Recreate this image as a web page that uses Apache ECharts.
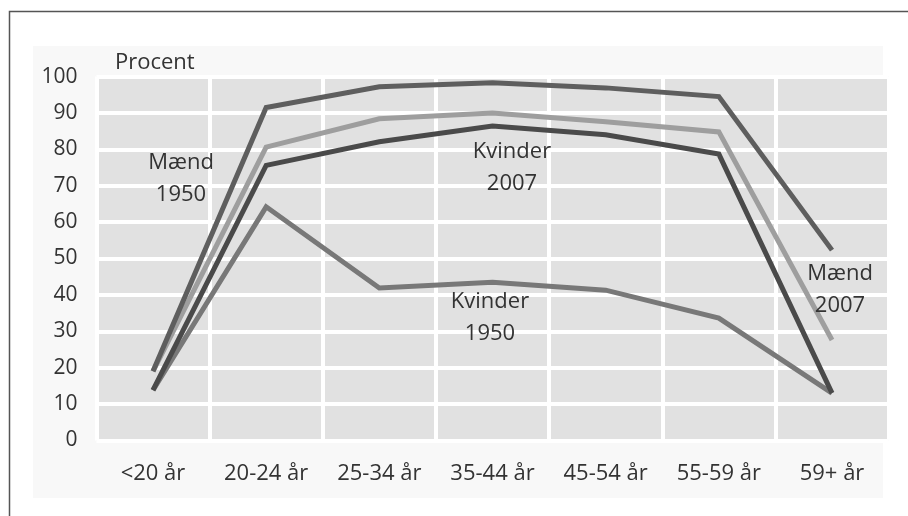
<!DOCTYPE html>
<html>
<head>
<meta charset="utf-8">
<script src="https://cdn.jsdelivr.net/npm/echarts@6/dist/echarts.min.js"></script>
<style>
html,body{margin:0;padding:0;background:#fff;}
#c{width:908px;height:516px;}
</style>
</head>
<body>
<div id="c"></div>
<script>
var categories = ['<20 år', '20-24 år', '25-34 år', '35-44 år', '45-54 år', '55-59 år', '59+ år'];
var maend1950 = [19, 91.5, 97.2, 98.3, 96.9, 94.5, 52.3];
var maend2007 = [19, 80.6, 88.4, 90.0, 87.6, 84.8, 27.6];
var kvinder2007 = [13.8, 75.6, 82.1, 86.4, 84.0, 78.7, 13.0];
var kvinder1950 = [13.8, 64.2, 41.9, 43.5, 41.3, 33.6, 13.0];
var yTicks = { min: 0, max: 100, interval: 10 };

var font = '"Open Sans", "Noto Sans", sans-serif';
var textColor = '#333333';

var chart = echarts.init(document.getElementById('c'), null, { renderer: 'canvas' });

function lineSeries(name, data, color, z) {
  return {
    name: name,
    type: 'line',
    data: data,
    symbol: 'none',
    smooth: false,
    z: z,
    lineStyle: { color: color, width: 5, join: 'miter' },
    emphasis: { disabled: true }
  };
}

function label(text, x, y) {
  return {
    type: 'text',
    z: 100,
    style: {
      text: text,
      x: x,
      y: y,
      font: '22px ' + font,
      fill: textColor,
      textAlign: 'center',
      textVerticalAlign: 'middle',
      lineHeight: 32
    }
  };
}

chart.setOption({
  animation: false,
  backgroundColor: '#ffffff',
  grid: {
    left: 96.4,
    right: 19.4,
    top: 76.6,
    bottom: 75.6,
    containLabel: false,
    show: true,
    backgroundColor: '#e1e1e1',
    borderWidth: 0
  },
  xAxis: {
    type: 'category',
    data: categories,
    boundaryGap: true,
    axisLine: { show: false },
    axisTick: { show: false },
    axisLabel: {
      margin: 22,
      fontSize: 22,
      fontFamily: font,
      color: textColor,
      interval: 0
    },
    splitLine: { show: true, interval: 0, lineStyle: { color: '#ffffff', width: 4 } }
  },
  yAxis: {
    type: 'value',
    min: yTicks.min,
    max: yTicks.max,
    interval: yTicks.interval,
    axisLine: { show: false },
    axisTick: { show: false },
    axisLabel: {
      margin: 19,
      fontSize: 21,
      fontFamily: font,
      color: textColor
    },
    splitLine: { show: true, lineStyle: { color: '#ffffff', width: 4 } }
  },
  graphic: [
    {
      type: 'rect', z: -10, silent: true,
      shape: { x: 33, y: 46, width: 850, height: 452 },
      style: { fill: '#f8f8f8' }
    },
    {
      type: 'rect', z: 50, silent: true,
      shape: { x: 9.5, y: 11.5, width: 940, height: 540 },
      style: { fill: 'none', stroke: '#555555', lineWidth: 1.5 }
    },
    {
      type: 'text', z: 100,
      style: {
        text: 'Procent', x: 115, y: 63,
        font: '22px ' + font, fill: textColor,
        textAlign: 'left', textVerticalAlign: 'middle'
      }
    },
    label('Mænd\n1950', 181, 179),
    label('Kvinder\n2007', 512, 168),
    label('Kvinder\n1950', 490, 318),
    label('Mænd\n2007', 840, 290)
  ],
  series: [
    lineSeries('Kvinder 1950', kvinder1950, '#787878', 2),
    lineSeries('Mænd 2007', maend2007, '#9e9e9e', 3),
    lineSeries('Mænd 1950', maend1950, '#5e5e5e', 4),
    lineSeries('Kvinder 2007', kvinder2007, '#4a4a4a', 5)
  ]
});
</script>
</body>
</html>
